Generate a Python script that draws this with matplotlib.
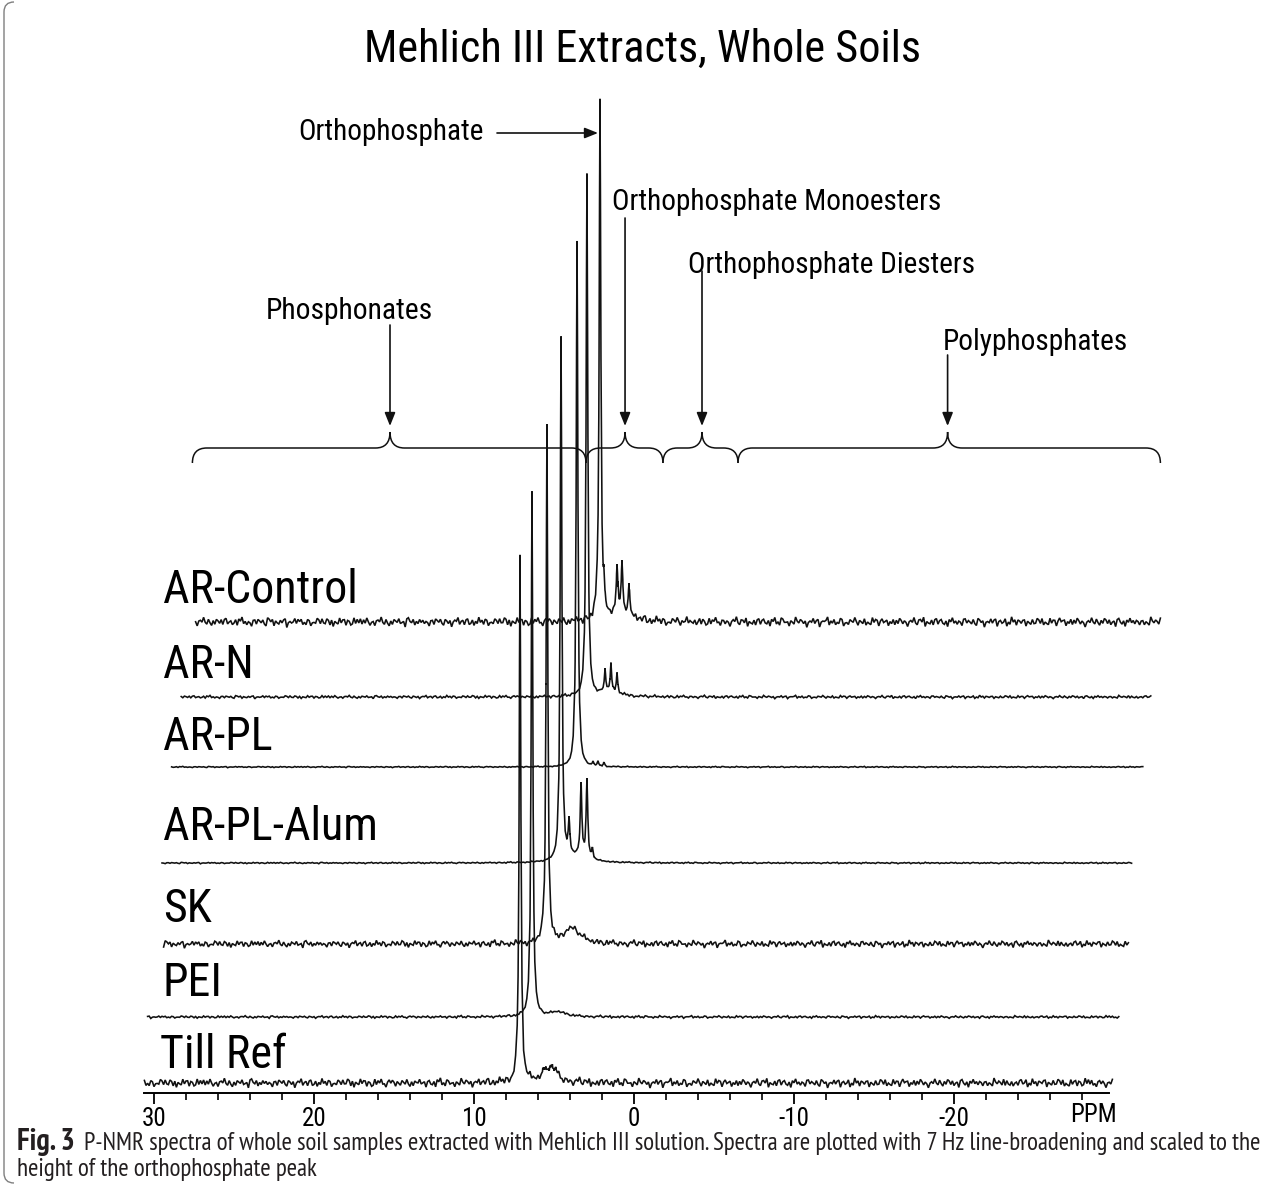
import numpy as np
import matplotlib
matplotlib.use("Agg")
import matplotlib.pyplot as plt
from matplotlib.path import Path
from matplotlib.patches import PathPatch

plt.rcParams['font.family'] = ['Roboto Condensed', 'Archivo Narrow', 'Liberation Sans', 'DejaVu Sans']
plt.rcParams['axes.unicode_minus'] = False

# spectra: x in ppm of the drawn axis, y in px above the axis line
samples = ["AR-Control", "AR-N", "AR-PL", "AR-PL-Alum", "SK", "PEI", "Till Ref"]
baseline = [471, 396, 326, 230, 149, 76, 10]
x_start = [27.4, 28.3, 28.9, 29.5, 29.4, 30.4, 30.6]
x_end = [-33.0, -32.4, -31.9, -31.2, -31.0, -30.4, -30.0]
noise_level = [5.2, 1.7, 0.7, 0.8, 4.0, 1.4, 5.0]

peak_pos = [
    [2.125, 1.875, 1.06, 0.75, 0.31, 1.0],
    [2.94, 1.81, 1.44, 1.06, 1.6],
    [3.56, 2.56, 2.25, 1.875],
    [4.56, 4.06, 3.31, 2.94, 2.6, 3.6],
    [5.44, 3.8, 4.2],
    [6.375, 4.75],
    [7.125, 5.6, 5.2, 4.9, 5.3],
]
peak_height = [
    [519, 20, 46, 51, 32, 8],
    [522, 22, 28, 20, 5],
    [526, 4, 5, 4],
    [523, 34, 72, 78, 10, 6],
    [518, 14, 4],
    [525, 5],
    [527, 8, 9, 7, 6],
]
peak_width = [
    [0.06, 0.05, 0.06, 0.06, 0.06, 0.9],
    [0.06, 0.05, 0.05, 0.05, 0.8],
    [0.06, 0.05, 0.05, 0.05],
    [0.06, 0.06, 0.06, 0.06, 0.05, 0.9],
    [0.06, 0.6, 0.2],
    [0.06, 0.6],
    [0.06, 0.15, 0.15, 0.15, 0.8],
]

# baseline wiggle, estimated by eye
noise_a = [0.3, -0.8, 0.5, 0.1, -0.4, 0.9, -0.2, -0.7, 0.6, 0.2, -0.5, 0.8, -0.9,
           0.4, 0.0, -0.3, 0.7, -0.6, 0.2, 0.5, -1.0, 0.3, 0.6, -0.4, -0.1, 0.8,
           -0.7, 0.4, -0.2, 0.9, -0.5, 0.1, -0.8, 0.6, 0.3, -0.6, 0.2]
noise_b = [-0.4, 0.6, 0.2, -0.7, 0.5, -0.1, 0.8, -0.5, -0.3, 0.7, 0.1, -0.9, 0.4,
           0.3, -0.6, 0.9, -0.2, -0.4, 0.6, -0.8, 0.2, 0.5, -0.3, 0.1, -0.7, 0.8,
           -0.1, 0.4, -0.5]

# annotations
regions = ["Phosphonates", "Orthophosphate Monoesters", "Orthophosphate Diesters", "Polyphosphates"]
region_tip = [15.25, 0.56, -4.25, -19.6]
brace_edges = [27.6, 3.0, -1.81, -6.5, -32.9]

W, H = 1284, 1185
fig = plt.figure(figsize=(W / 100, H / 100), dpi=100)
ax = fig.add_axes([144 / W, 92 / H, 965 / W, 1093 / H])
ax.set_xlim(30.625, -29.6875)
ax.set_ylim(0, 1093)
for s in ["top", "left", "right"]:
    ax.spines[s].set_visible(False)
ax.spines["bottom"].set_linewidth(1.4)
ax.set_yticks([])
ax.set_xticks([30, 20, 10, 0, -10, -20])
ax.set_xticks(np.arange(30, -29, -2), minor=True)
ax.tick_params(axis="x", which="major", direction="out", length=8, width=1.3, labelsize=18, pad=2)
ax.tick_params(axis="x", which="minor", direction="out", length=5, width=1.2)
ppm = ax.text(-28.7, 0, "PPM", fontsize=18, ha="center", va="top")
ppm.set_transform(ax.get_xaxis_transform())
ppm.set_y(-10 / 1093)


def lorentz(x, pos, h, w):
    y = np.zeros_like(x)
    for p, hh, ww in zip(pos, h, w):
        y += hh * ww ** 2 / ((x - p) ** 2 + ww ** 2)
    return y


for i, name in enumerate(samples):
    xc = np.arange(x_start[i], x_end[i], -0.1)
    k = np.arange(len(xc)) + 11 * i
    nz = noise_level[i] * (np.array(noise_a)[k % 37] + 0.6 * np.array(noise_b)[(k // 3) % 29]) / 1.4
    extra = []
    for p, w in zip(peak_pos[i], peak_width[i]):
        if w < 0.2:
            extra += list(p + np.array([-0.12, -0.06, -0.03, 0.0, 0.03, 0.06, 0.12]))
    xs = np.concatenate([xc, extra])
    ns = np.concatenate([nz, np.zeros(len(extra))])
    order = np.argsort(-xs)
    xs, ns = xs[order], ns[order]
    ys = baseline[i] + ns + lorentz(xs, peak_pos[i], peak_height[i], peak_width[i])
    ax.plot(xs, ys, color="#111111", lw=1.15, clip_on=False, solid_joinstyle="miter")

renderer = fig.canvas.get_renderer()


def fit(t, target):
    w = t.get_window_extent(renderer=renderer).width
    t.set_fontsize(t.get_fontsize() * target / w)


def px(x):
    return (634 - x) / 16.0


# sample labels
label_base = [490, 415, 343, 253, 171, 97, 25]
label_x = [163, 163, 163, 163, 163, 163, 160]
lab = []
for i, name in enumerate(samples):
    lab.append(ax.text(px(label_x[i]), label_base[i], name, fontsize=30, ha="left", va="baseline"))
fit(lab[3], 215)
for t in lab:
    t.set_fontsize(lab[3].get_fontsize())

# title
t = ax.text(px(643), 1031, "Mehlich III Extracts, Whole Soils", fontsize=30, ha="center", va="baseline")
fit(t, 557)

# region labels and arrows
t = ax.text(px(298), 953, "Orthophosphate", fontsize=20, ha="left", va="baseline")
fit(t, 185)
ax.annotate("", xy=(px(598), 960), xytext=(px(497), 960),
            arrowprops=dict(arrowstyle="-|>,head_length=0.8,head_width=0.32", lw=1.2, color="#111111",
                            shrinkA=0, shrinkB=0))
reg_text_x = [266, 612, 688, 943]
reg_text_base = [774, 883, 820, 743]
reg_text_w = [167, 328, 287, 185]
arrow_top = [768, 875, 822, 738]
for j, name in enumerate(regions):
    t = ax.text(px(reg_text_x[j]), reg_text_base[j], name, fontsize=20, ha="left", va="baseline")
    fit(t, reg_text_w[j])
    ax.annotate("", xy=(region_tip[j], 667), xytext=(region_tip[j], arrow_top[j]),
                arrowprops=dict(arrowstyle="-|>,head_length=0.8,head_width=0.32", lw=1.2, color="#111111",
                                shrinkA=0, shrinkB=0))

# braces
yh, yd, yt = 645, 630, 661
r = 0.9
for j in range(len(regions)):
    x0, x1, xm = brace_edges[j], brace_edges[j + 1], region_tip[j]
    verts = [(x0, yd), (x0, yh), (x0 - r, yh), (xm + r, yh), (xm, yh), (xm, yt),
             (xm, yh), (xm - r, yh), (x1 + r, yh), (x1, yh), (x1, yd)]
    codes = [Path.MOVETO, Path.CURVE3, Path.CURVE3, Path.LINETO, Path.CURVE3, Path.CURVE3,
             Path.CURVE3, Path.CURVE3, Path.LINETO, Path.CURVE3, Path.CURVE3]
    ax.add_patch(PathPatch(Path(verts, codes), fill=False, lw=1.1, color="#111111", clip_on=False))

# caption
cap_font = ["PT Sans Narrow", "Open Sans", "DejaVu Sans"]
c1 = fig.text(17 / W, 1 - 1150 / H, "Fig. 3", fontsize=12, fontweight="bold", family=cap_font,
              va="baseline", color="#231f20")
fit(c1, 58)
c2 = fig.text(84 / W, 1 - 1150 / H,
              "P-NMR spectra of whole soil samples extracted with Mehlich III solution. Spectra are plotted "
              "with 7 Hz line-broadening and scaled to the", fontsize=12, family=cap_font, va="baseline",
              color="#231f20")
fit(c2, 1178)
fig.text(17 / W, 1 - 1176 / H, "height of the orthophosphate peak", fontsize=c2.get_fontsize(),
         family=cap_font, va="baseline", color="#231f20")

# left frame of the caption box
fig.add_artist(PathPatch(Path([(14 / W, 1 - 2 / H), (4 / W, 1 - 2 / H), (4 / W, 1 - 12 / H),
                               (4 / W, 12 / H), (4 / W, 2 / H), (14 / W, 2 / H)],
                              [Path.MOVETO, Path.CURVE3, Path.CURVE3, Path.LINETO, Path.CURVE3, Path.CURVE3]),
                         fill=False, lw=1.0, color="#7f7f7f", transform=fig.transFigure))

fig.savefig("out.png", dpi=100)
